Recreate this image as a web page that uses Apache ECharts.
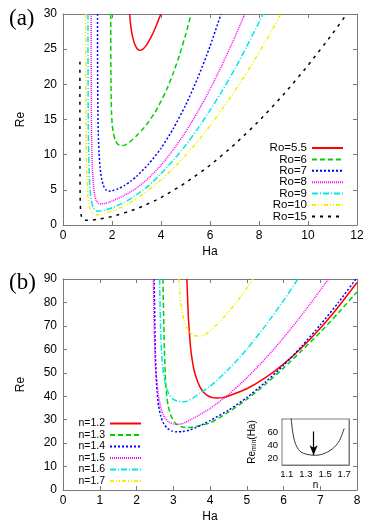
<!DOCTYPE html>
<html>
<head>
<meta charset="utf-8">
<script src="https://cdn.jsdelivr.net/npm/echarts@6/dist/echarts.min.js"></script>
<style>
  html, body { margin: 0; padding: 0; background: #fff; }
  #chart { width: 374px; height: 527px; }
</style>
</head>
<body>
<div id="chart"></div>
<script>
// (a) Re vs Ha, one curve per Ro  -- [Ha, Re]
const ro55 = [[2.72,30],[2.75,28.8],[2.8,27.5],[2.86,26.5],[2.93,25.7],[3.02,25.1],[3.12,24.85],[3.24,24.95],[3.37,25.4],[3.5,26.1],[3.65,27.1],[3.8,28.3],[3.95,29.6],[4.0,30]];
const ro6 = [[1.95,30],[1.95,26],[1.955,22],[1.965,18.5],[1.98,16],[2.01,14.2],[2.06,13],[2.13,12.1],[2.21,11.6],[2.31,11.35],[2.42,11.3],[2.55,11.4],[2.7,11.75],[2.85,12.2],[3.0,12.7],[3.25,13.6],[3.5,14.7],[3.75,16.0],[4.0,17.6],[4.25,19.4],[4.5,21.6],[4.75,24.1],[5.0,27.0],[5.23,30]];
const ro7 = [[1.41,30],[1.41,25],[1.415,20],[1.425,16],[1.44,13],[1.47,10.3],[1.51,8.3],[1.57,6.7],[1.65,5.6],[1.75,5.0],[1.87,4.8],[2.0,4.85],[2.25,5.15],[2.5,5.6],[2.75,6.2],[3.0,6.9],[3.5,8.7],[4.0,10.9],[4.5,13.7],[5.0,17.0],[5.5,20.9],[6.0,25.4],[6.45,30]];
const ro8 = [[1.15,30],[1.15,25],[1.155,20],[1.16,15],[1.175,11],[1.2,8],[1.24,5.8],[1.29,4.3],[1.36,3.45],[1.45,3.07],[1.55,3.0],[1.7,3.05],[1.85,3.2],[2.0,3.4],[2.5,4.2],[3.0,5.25],[3.5,6.7],[4.0,8.5],[4.5,10.7],[5.0,13.2],[5.5,16.1],[6.0,19.3],[6.5,22.8],[7.0,26.6],[7.42,30]];
const ro9 = [[1.02,30],[1.02,25],[1.025,20],[1.03,15],[1.045,11],[1.07,7.5],[1.1,5],[1.16,3.4],[1.23,2.5],[1.31,2.1],[1.4,1.98],[1.55,2.0],[1.75,2.15],[2.0,2.45],[2.5,3.2],[3.0,4.3],[3.5,5.6],[4.0,7.3],[4.5,9.2],[5.0,11.3],[5.5,13.7],[6.0,16.3],[6.5,19.1],[7.0,22.1],[7.5,25.4],[8.0,28.8],[8.17,30]];
const ro10 = [[0.93,30],[0.93,25],[0.935,20],[0.94,15],[0.95,11],[0.97,7.5],[1.0,5],[1.04,3.3],[1.1,2.3],[1.17,1.75],[1.26,1.5],[1.4,1.45],[1.6,1.55],[2.0,2.0],[2.5,2.7],[3.0,3.75],[3.5,5.0],[4.0,6.4],[4.5,8.05],[5.0,9.9],[5.5,11.9],[6.0,14.1],[6.5,16.5],[7.0,19.0],[7.5,21.7],[8.0,24.5],[8.5,27.5],[8.89,30]];
const ro15 = [[0.69,23.2],[0.69,18],[0.69,12],[0.695,7],[0.70,4],[0.715,2.2],[0.74,1.4],[0.78,1.0],[0.85,0.75],[0.95,0.66],[1.1,0.68],[1.5,0.85],[2.0,1.2],[3.0,2.3],[4.0,3.9],[5.0,6.0],[6.0,8.5],[7.0,11.45],[8.0,14.8],[9.0,18.55],[10.0,22.7],[11.0,27.2],[11.58,30]];
const roNames = ['Ro=5.5', 'Ro=6', 'Ro=7', 'Ro=8', 'Ro=9', 'Ro=10', 'Ro=15'];

// (b) Re vs Ha, one curve per n  -- [Ha, Re]
const n12 = [[3.37,90],[3.39,82],[3.41,74],[3.44,67],[3.47,61],[3.51,56],[3.56,51.5],[3.63,47.7],[3.72,44.2],[3.82,41.8],[3.95,40.1],[4.1,39.3],[4.2,39.2],[4.35,39.4],[4.5,40.1],[5.0,43.2],[5.5,47.8],[6.0,53.7],[6.5,60.8],[7.0,69.0],[7.5,78.3],[8.0,88.5]];
const n13 = [[2.72,90],[2.73,80],[2.745,70],[2.76,60],[2.78,50],[2.81,42],[2.86,36],[2.93,32],[3.02,29.2],[3.12,27.7],[3.24,26.9],[3.36,26.6],[3.5,26.8],[3.75,27.6],[4.0,28.6],[4.5,33.2],[5.0,38.6],[5.5,45.0],[6.0,52.0],[6.5,59.5],[7.0,67.3],[7.5,75.7],[8.0,84.5]];
const n14 = [[2.48,90],[2.49,80],[2.5,70],[2.51,60],[2.53,50],[2.56,42],[2.6,36],[2.66,31.5],[2.74,28.3],[2.84,26.3],[2.96,25.2],[3.1,24.8],[3.25,24.9],[3.45,25.6],[3.7,27.2],[4.0,29.6],[4.5,34.0],[5.0,39.4],[5.5,45.9],[6.0,53.2],[6.5,61.4],[7.0,70.4],[7.5,80.1],[7.97,90]];
const n15 = [[2.46,90],[2.47,80],[2.48,70],[2.5,60],[2.52,52],[2.56,45],[2.61,39],[2.68,34],[2.77,30.8],[2.88,29],[3.0,28.2],[3.1,28.0],[3.25,28.3],[3.5,30.2],[3.75,32.4],[4.0,34.7],[4.5,40.7],[5.0,47.8],[5.5,55.9],[6.0,64.9],[6.5,74.7],[7.0,85.2],[7.22,90]];
const n16 = [[2.63,90],[2.64,80],[2.655,70],[2.67,62],[2.7,55],[2.74,49],[2.8,44.5],[2.88,41],[2.98,39],[3.1,38],[3.25,37.6],[3.4,38.0],[3.55,39.3],[3.72,41.3],[4.0,44.2],[4.5,51.4],[5.0,60.0],[5.5,69.9],[6.0,80.8],[6.39,90]];
const n17 = [[3.15,90],[3.18,84],[3.22,78],[3.28,73],[3.36,69.5],[3.46,67.2],[3.58,65.9],[3.72,65.5],[3.85,66.2],[4.0,67.9],[4.25,71.5],[4.5,75.8],[4.75,80.7],[5.0,86.1],[5.17,90]];
const nNames = ['n=1.2', 'n=1.3', 'n=1.4', 'n=1.5', 'n=1.6', 'n=1.7'];

// inset: Re_min against n
const insetN  = [1.145, 1.16, 1.18, 1.2, 1.22, 1.25, 1.3, 1.35, 1.4, 1.45, 1.5, 1.55, 1.6, 1.65, 1.7];
const insetRe = [82, 62, 47, 39.2, 34, 29.5, 26.6, 25.2, 24.8, 25.6, 28, 31.8, 37.6, 47, 65.5];
const insetTicksX = [1.1, 1.3, 1.5, 1.7];
const insetTicksY = [20, 40, 60];
const arrowN = 1.38, arrowFrom = 61, arrowTo = 25;

const FONT = '"Liberation Sans", Arial, sans-serif';
const GRAY = '#7a7a7a';

const colors = ['#ff0000', '#00d000', '#0000ff', '#ff00ff', '#00e8e8', '#f0f000', '#000000'];
const dashes = ['solid', [5, 3], [2, 2], [1, 1], [6, 2, 1, 2], [4, 2, 1, 2, 1, 2], [3, 5]];

function axis(grid, pos, min, max, interval, main, extra) {
  const a = {
    type: 'value', gridIndex: grid, position: pos, min: min, max: max, interval: interval,
    axisLine: { show: true, onZero: false, lineStyle: { color: GRAY, width: 1 } },
    axisTick: { show: true, inside: true, length: 4, lineStyle: { color: GRAY } },
    axisLabel: { show: main, color: '#000', fontSize: 12, fontFamily: FONT, margin: (pos === 'left' ? 6 : 5) },
    splitLine: { show: false },
    nameTextStyle: { color: '#000', fontSize: 12, fontFamily: FONT }
  };
  return Object.assign(a, extra || {});
}

function curve(name, data, i, xi) {
  return {
    name: name, type: 'line', xAxisIndex: xi, yAxisIndex: xi,
    data: data, showSymbol: false, symbol: 'none', smooth: 0.2,
    lineStyle: { color: colors[i], width: 1.5, type: dashes[i] },
    itemStyle: { color: colors[i] }
  };
}

const seriesA = [ro55, ro6, ro7, ro8, ro9, ro10, ro15].map((d, i) => curve(roNames[i], d, i, 0));
const seriesB = [n12, n13, n14, n15, n16, n17].map((d, i) => curve(nNames[i], d, i, 2));

const insetTick = { show: true, inside: true, length: 2, lineStyle: { color: GRAY } };

const option = {
  animation: false,
  backgroundColor: '#fff',
  title: [
    { text: '(a)', left: 4, top: 2, textStyle: { fontFamily: '"Liberation Serif", serif', fontSize: 23, fontWeight: 'normal', color: '#000' } },
    { text: '(b)', left: 4, top: 266, textStyle: { fontFamily: '"Liberation Serif", serif', fontSize: 23, fontWeight: 'normal', color: '#000' } }
  ],
  grid: [
    { left: 63, top: 14, width: 294, height: 211 },
    { left: 63, top: 279, width: 294, height: 211 },
    { left: 282, top: 419, width: 67, height: 46, show: true, backgroundColor: '#fff', borderColor: GRAY, z: 5 }
  ],
  legend: [
    { data: roNames, orient: 'vertical', align: 'right', right: 30, top: 142, padding: 0,
      itemWidth: 31, itemHeight: 8, itemGap: -0.6, selectedMode: false,
      itemStyle: { opacity: 0 },
      textStyle: { color: '#000', fontSize: 11.5, fontFamily: FONT, lineHeight: 11 } },
    { data: nNames, orient: 'vertical', align: 'right', right: 232, top: 418, padding: 0,
      itemWidth: 31, itemHeight: 8, itemGap: 0.5, selectedMode: false,
      itemStyle: { opacity: 0 },
      textStyle: { color: '#000', fontSize: 10.5, fontFamily: FONT, lineHeight: 11 } }
  ],
  xAxis: [
    axis(0, 'bottom', 0, 12, 2, true, { name: 'Ha', nameLocation: 'middle', nameGap: 21 }),
    axis(0, 'top', 0, 12, 2, false),
    axis(1, 'bottom', 0, 8, 1, true, { name: 'Ha', nameLocation: 'middle', nameGap: 21 }),
    axis(1, 'top', 0, 8, 1, false),
    axis(2, 'bottom', 1.05, 1.75, null, true, {
      name: 'n', nameLocation: 'middle', nameGap: 10,
      nameTextStyle: { color: '#000', fontSize: 10, fontFamily: FONT },
      axisTick: Object.assign({ customValues: insetTicksX }, insetTick),
      axisLabel: { color: '#000', fontSize: 9.5, fontFamily: FONT, margin: 4, customValues: insetTicksX }
    }),
    axis(2, 'top', 1.05, 1.75, null, false, { axisTick: { show: false } })
  ],
  yAxis: [
    axis(0, 'left', 0, 30, 5, true, { name: 'Re', nameLocation: 'middle', nameGap: 36 }),
    axis(0, 'right', 0, 30, 5, false),
    axis(1, 'left', 0, 90, 10, true, { name: 'Re', nameLocation: 'middle', nameGap: 36 }),
    axis(1, 'right', 0, 90, 10, false),
    axis(2, 'left', 10, 80, null, true, {
      name: 'Re{s|min}(Ha)', nameLocation: 'middle', nameGap: 24,
      nameTextStyle: { color: '#000', fontSize: 10, fontFamily: FONT,
        rich: { s: { fontSize: 7, fontFamily: FONT, color: '#000', padding: [5, 0, 0, 0] } } },
      axisTick: Object.assign({ customValues: insetTicksY }, insetTick),
      axisLabel: { color: '#000', fontSize: 9.5, fontFamily: FONT, margin: 4, customValues: insetTicksY }
    }),
    axis(2, 'right', 10, 80, null, false, { axisTick: { show: false } })
  ],
  series: seriesA.concat(seriesB, [{
    name: 'inset', type: 'line', xAxisIndex: 4, yAxisIndex: 4, z: 6,
    data: insetN.map((n, i) => [n, insetRe[i]]),
    showSymbol: false, symbol: 'none', smooth: 0.3,
    lineStyle: { color: '#333', width: 1 },
    markLine: {
      silent: true, symbol: ['none', 'arrow'], symbolSize: [6, 10],
      label: { show: false },
      lineStyle: { color: '#000', type: 'solid', width: 1.2 },
      data: [[{ coord: [arrowN, arrowFrom] }, { coord: [arrowN, arrowTo] }]]
    }
  }])
};

const chart = echarts.init(document.getElementById('chart'), null, { renderer: 'canvas' });
chart.setOption(option);
</script>
</body>
</html>
